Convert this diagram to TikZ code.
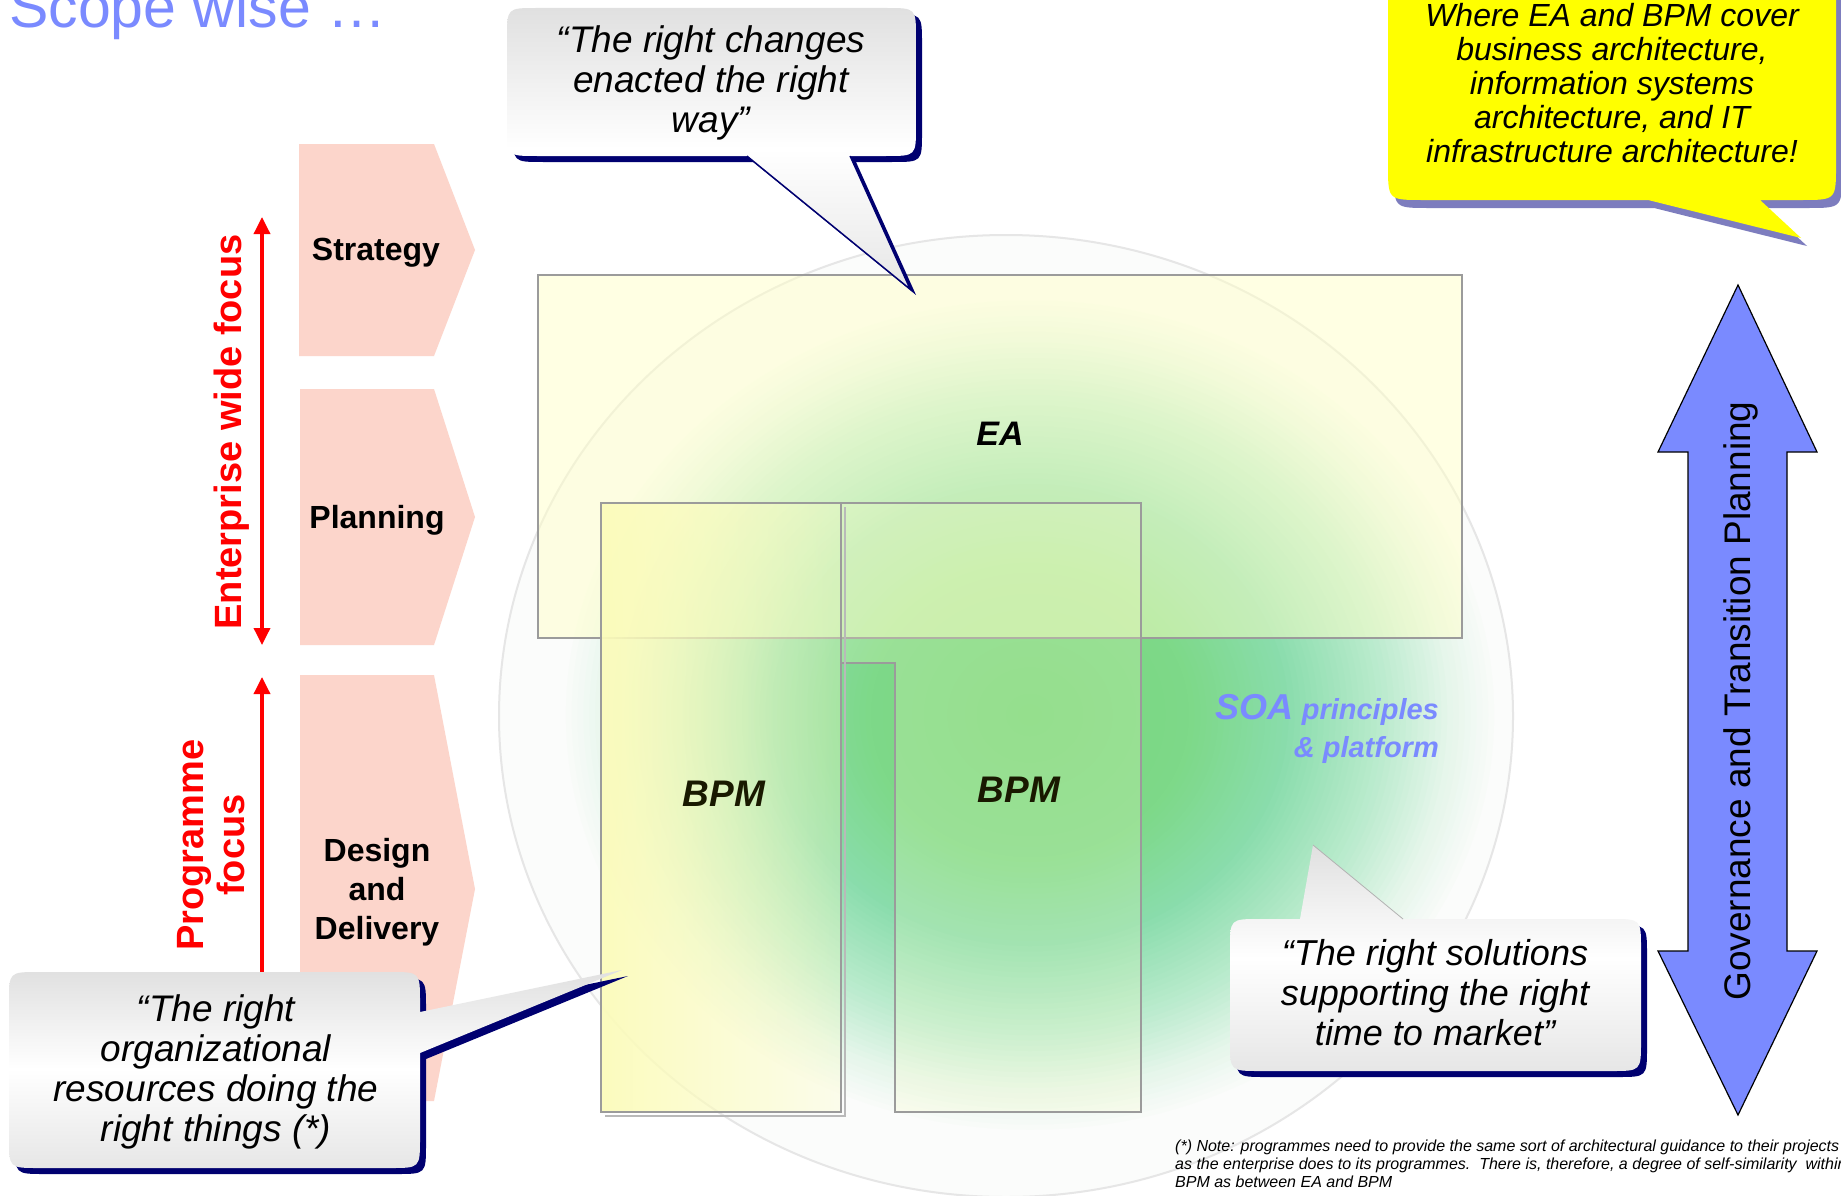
\documentclass[tikz,border=0pt]{standalone}
\usepackage{fontspec}
\setmainfont{Liberation Sans}
\usetikzlibrary{arrows.meta,fadings}
\definecolor{pinkfill}{RGB}{252,213,203}
\definecolor{titleblue}{RGB}{122,138,255}
\definecolor{navyc}{RGB}{0,0,112}
\definecolor{callg}{RGB}{224,224,224}
\definecolor{yshadow}{RGB}{125,125,190}
\definecolor{boxgray}{RGB}{155,155,155}
\definecolor{eafill}{RGB}{255,255,200}
\definecolor{bpmfill}{RGB}{250,250,180}
\definecolor{redc}{RGB}{255,0,0}
\definecolor{govblue}{RGB}{122,138,255}
\definecolor{circline}{RGB}{230,230,230}
\definecolor{circfill}{RGB}{251,252,251}
\definecolor{bpmtext}{RGB}{25,25,0}
\definecolor{yel}{RGB}{255,255,0}
\tikzfading[name=fadeR, left color=transparent!0, right color=transparent!100]

\def\calA{(537,8) -- (886,8) .. controls (916,8) .. (916,38) -- (916,126) .. controls (916,156) .. (886,156) -- (850,156) -- (910,289) -- (747,156) -- (537,156) .. controls (507,156) .. (507,126) -- (507,38) .. controls (507,8) .. (537,8) -- cycle}
\def\calB{(1423,-60) -- (1801,-60) .. controls (1836,-60) .. (1836,-25) -- (1836,165) .. controls (1836,200) .. (1801,200) -- (1760,200) -- (1801,238) -- (1648,200) -- (1423,200) .. controls (1388,200) .. (1388,165) -- (1388,-25) .. controls (1388,-60) .. (1423,-60) -- cycle}
\def\calC{(39,972) -- (390,972) .. controls (420,972) .. (420,1002) -- (420,1012) -- (622,970) -- (420,1053) -- (420,1138) .. controls (420,1168) .. (390,1168) -- (39,1168) .. controls (9,1168) .. (9,1138) -- (9,1002) .. controls (9,972) .. (39,972) -- cycle}
\def\calD{(1260,919) -- (1300,919) -- (1313,845) -- (1403,919) -- (1611,919) .. controls (1641,919) .. (1641,949) -- (1641,1041) .. controls (1641,1071) .. (1611,1071) -- (1260,1071) .. controls (1230,1071) .. (1230,1041) -- (1230,949) .. controls (1230,919) .. (1260,919) -- cycle}
\def\calDbox{(1260,919) -- (1611,919) .. controls (1641,919) .. (1641,949) -- (1641,1041) .. controls (1641,1071) .. (1611,1071) -- (1260,1071) .. controls (1230,1071) .. (1230,1041) -- (1230,949) .. controls (1230,919) .. (1260,919) -- cycle}

\tikzset{
  chev/.style={fill=pinkfill, draw=none},
  chevtxt/.style={font=\fontsize{32}{39}\selectfont\bfseries, align=center, inner sep=0pt},
  focustxt/.style={font=\fontsize{38}{41}\selectfont\bfseries, text=redc, align=center, rotate=90, inner sep=0pt},
  redline/.style={draw=redc, line width=3.5pt},
  boxlab/.style={font=\fontsize{37}{40}\selectfont\bfseries\itshape, text=bpmtext, inner sep=0pt},
  quotetxt/.style={font=\fontsize{37}{40}\selectfont\itshape, align=center, inner sep=0pt},
  calshade/.style={top color=callg, bottom color=callg!80!white, middle color=white},
  soatxt/.style={text=titleblue, font=\fontsize{29}{29}\selectfont\bfseries\itshape, inner sep=0pt, anchor=base east},
}

\begin{document}
\begin{tikzpicture}[x=1pt,y=-1pt]
\useasboundingbox (0,0) rectangle (1841,1196);
\fill[white] (0,0) rectangle (1841,1196);

% big circle with glow (concentric steps)
\filldraw[fill=circfill, draw=circline, line width=2pt] (1006,716) ellipse [x radius=507pt, y radius=481pt];
\begin{scope}
  \clip (1006,716) ellipse [x radius=506pt, y radius=480pt];
  \foreach \i in {80,79,...,1} {
    \pgfmathsetmacro\ff{\i/80}
    \pgfmathtruncatemacro\cR{\ff<0.35 ? 120+\ff/0.35*6 : (\ff<0.55 ? 126+(\ff-0.35)/0.2*12 : (\ff<0.75 ? 138+(\ff-0.55)/0.2*47 : (\ff<0.9 ? 185+(\ff-0.75)/0.15*45 : 230+(\ff-0.9)/0.1*21)))}
    \pgfmathtruncatemacro\cG{\ff<0.35 ? 215+\ff/0.35*2 : (\ff<0.55 ? 217+(\ff-0.35)/0.2*4 : (\ff<0.75 ? 221+(\ff-0.55)/0.2*14 : (\ff<0.9 ? 235+(\ff-0.75)/0.15*11 : 246+(\ff-0.9)/0.1*6)))}
    \pgfmathtruncatemacro\cB{\ff<0.35 ? 125+\ff/0.35*12 : (\ff<0.55 ? 137+(\ff-0.35)/0.2*35 : (\ff<0.75 ? 172+(\ff-0.55)/0.2*33 : (\ff<0.9 ? 205+(\ff-0.75)/0.15*30 : 235+(\ff-0.9)/0.1*16)))}
    \pgfmathsetmacro\rx{\ff*470}
    \pgfmathsetmacro\ry{\ff*420}
    \definecolor{tmpc}{RGB}{\cR,\cG,\cB}
    \fill[tmpc] (1030,715) ellipse [x radius=\rx pt, y radius=\ry pt];
  }
\end{scope}

% EA rectangle
\filldraw[fill=eafill, fill opacity=0.5, draw=boxgray, line width=2.5pt] (538,275) rectangle (1462,638);

% right BPM (inverted L)
\filldraw[fill=eafill, fill opacity=0.22, draw=boxgray, line width=2pt] (841,503) -- (1141,503) -- (1141,1112) -- (895,1112) -- (895,663) -- (841,663) -- cycle;

% left BPM
\fill[bpmfill, fill opacity=0.92, path fading=fadeR] (601,503) rectangle (841,1112);
\fill[eafill, fill opacity=0.3] (601,503) rectangle (841,1112);
\draw[boxgray!70, line width=1.5pt] (845,507) -- (845,1116) -- (605,1116);
\draw[boxgray, line width=2.5pt] (601,503) rectangle (841,1112);

% labels in boxes
\node[boxlab, text=black, font=\fontsize{34}{36}\selectfont\bfseries\itshape] (ea) at (1000,434) {EA};
\node[boxlab] (bpm1) at (724,794) {BPM};
\node[boxlab] (bpm2) at (1019,790) {BPM};
\node[soatxt] (soa1) at (1439,719) {{\fontsize{36}{36}\selectfont SOA} principles};
\node[soatxt] (soa2) at (1439,757) {\& platform};

% chevrons
\fill[chev] (299,144) -- (434,144) -- (475,250) -- (434,356) -- (299,356) -- cycle;
\fill[chev] (300,389) -- (434,389) -- (475,517) -- (434,645) -- (300,645) -- cycle;
\fill[chev] (300,675) -- (434,675) -- (475,889) -- (434,1101) -- (300,1101) -- cycle;
\node[chevtxt] (strat) at (376,253) {Strategy};
\node[chevtxt] (plan) at (377,520) {Planning};
\node[chevtxt] (dd) at (377,892) {Design\\and\\Delivery};

% red focus arrows
\coordinate (ewTop) at (262,217);
\coordinate (ewBot) at (262,645);
\coordinate (pfTop) at (262,677);
\coordinate (pfBot) at (262,1000);
\draw[redline, {Triangle[width=16pt,length=17pt]}-{Triangle[width=16pt,length=17pt]}] (ewBot) -- (ewTop);
\draw[redline, -{Triangle[width=16pt,length=17pt]}] (pfBot) -- (pfTop);
\node[focustxt] (ewf) at (232,432) {Enterprise wide focus};
\node[focustxt] (pf) at (211,845) {Programme\\focus};

% callout 1
\begin{scope}[shift={(6,6)}] \fill[navyc] \calA; \end{scope}
\shade[calshade] \calA;
\draw[navyc, line width=1.3pt] (747,156) -- (910,289) -- (850,156);
\node[quotetxt] (q1) at (711,83) {“The right changes\\enacted the right\\way”};

% callout 2 (yellow)
\begin{scope}[shift={(6,8)}] \fill[yshadow] \calB; \end{scope}
\fill[yel] \calB;
\node[quotetxt, font=\fontsize{32}{34}\selectfont\itshape] (q2) at (1612,83) {Where EA and BPM cover\\business architecture,\\information systems\\architecture, and IT\\infrastructure architecture!};

% callout 3
\begin{scope}[shift={(6,6)}] \fill[navyc] \calC; \end{scope}
\shade[calshade] \calC;
\node[quotetxt] (q3) at (216,1072) {“The right\\organizational\\resources doing the\\right things (*)};

% callout 4
\begin{scope}[shift={(6,6)}] \fill[navyc] \calDbox; \end{scope}
\shade[calshade] \calD;
\draw[gray!60, line width=0.8pt] (1313,845) -- (1403,919);
\node[quotetxt, font=\fontsize{36}{40}\selectfont\itshape] (q4) at (1435,993) {“The right solutions\\supporting the right\\time to market”};

% governance arrow
\filldraw[fill=govblue, draw=black, line width=1.2pt] (1738,285) -- (1817,452) -- (1787,452) -- (1787,951) -- (1817,951) -- (1738,1115) -- (1658,951) -- (1688,951) -- (1688,452) -- (1658,452) -- cycle;
\node[rotate=90, inner sep=0pt, font=\fontsize{37}{40}\selectfont] (gov) at (1741,701) {Governance and Transition Planning};

% note
\node[anchor=north west, align=left, inner sep=0pt, font=\fontsize{16}{17.6}\selectfont\itshape] (note) at (1175,1140) {(*) Note: programmes need to provide the same sort of architectural guidance to their projects\\as the enterprise does to its programmes.\ \ There is, therefore, a degree of self-similarity\ \ within\\BPM as between EA and BPM};

% title
\node[anchor=base west, inner sep=0pt, text=titleblue, font=\fontsize{59}{62}\selectfont] (title) at (9,28) {Scope wise …};
\end{tikzpicture}
\end{document}
